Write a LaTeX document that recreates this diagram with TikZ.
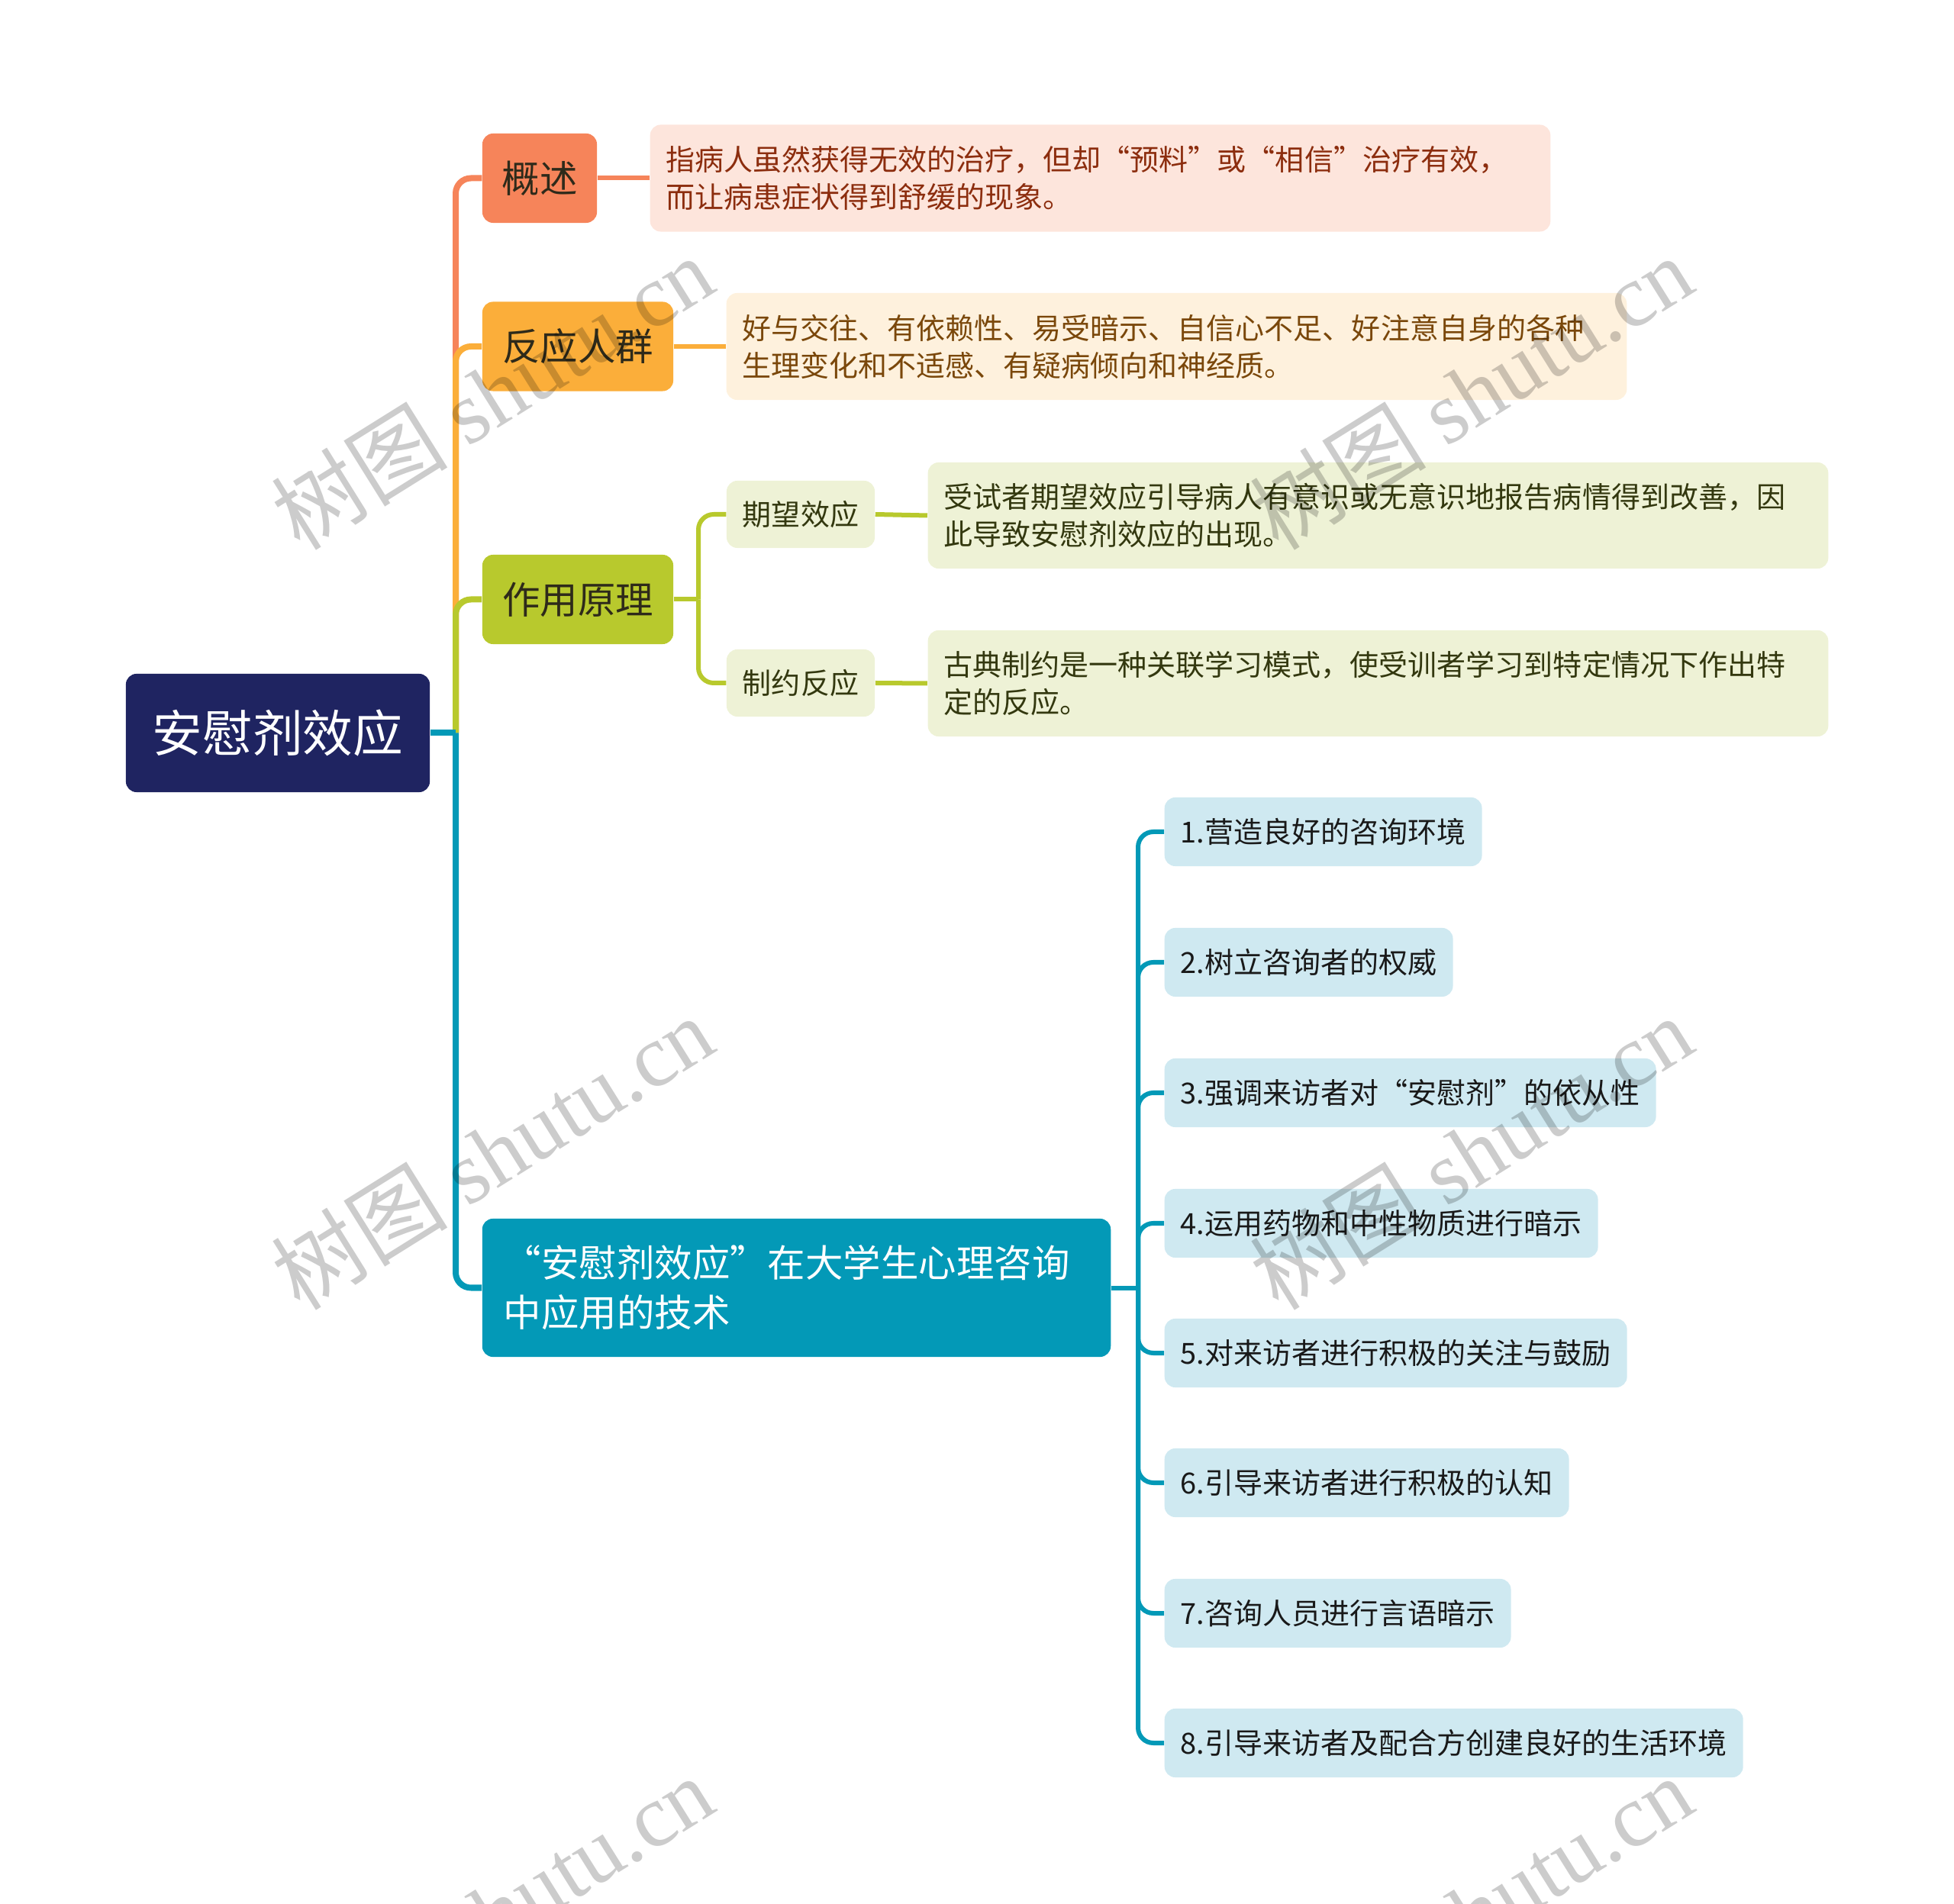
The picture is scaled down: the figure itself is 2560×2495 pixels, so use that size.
\documentclass[tikz,border=0pt]{standalone}
\usepackage{fontspec}
\setmainfont{Noto Sans CJK SC}
\newfontfamily\cjk{Noto Sans CJK SC}
\newfontfamily\wmserif{Liberation Serif}
\definecolor{rootc}{HTML}{1F2461}
\definecolor{c1}{HTML}{F6845A}
\definecolor{c1l}{HTML}{FDE5DC}
\definecolor{c1t}{HTML}{8C2D0E}
\definecolor{c2}{HTML}{FBAE3A}
\definecolor{c2l}{HTML}{FEF1DD}
\definecolor{c2t}{HTML}{7A470A}
\definecolor{c3}{HTML}{B8C92D}
\definecolor{c3l}{HTML}{EEF2D6}
\definecolor{c3t}{HTML}{33380F}
\definecolor{c4}{HTML}{0399B7}
\definecolor{c4l}{HTML}{CFE9F1}
\definecolor{darktxt}{HTML}{2E2A1A}
\begin{document}
\begin{tikzpicture}[x=0.01cm,y=-0.01cm,
  box/.style={rounded corners=0.14cm, inner sep=0pt, align=center},
  rootbox/.style={box, fill=rootc, text=white, minimum width=3.98cm, minimum height=1.55cm,
    font=\fontsize{18.67pt}{22pt}\selectfont},
  lvlone/.style={box, minimum height=1.17cm, font=\fontsize{14.06pt}{18.5pt}\selectfont, text=darktxt},
  detail/.style={box, minimum width=11.79cm, minimum height=1.40cm, text width=11.37cm, align=left,
    font=\fontsize{10.81pt}{13.94pt}\selectfont},
  subbox/.style={box, fill=c3l, text=c3t, minimum width=1.94cm, minimum height=0.88cm,
    font=\fontsize{10.81pt}{13.94pt}\selectfont},
  itembox/.style={box, fill=c4l, text=black!90, anchor=west, inner xsep=0.21cm, minimum height=0.90cm,
    font=\fontsize{10.81pt}{13.94pt}\selectfont},
  mainline/.style={line width=0.08cm, rounded corners=0.2cm},
  subline/.style={line width=0.06cm, rounded corners=0.2cm},
  wm/.style={text=black, text opacity=0.2, rotate=32, font=\fontsize{33pt}{37pt}\selectfont}
]
\useasboundingbox (0,0) rectangle (2560,2495);

% nodes
\node[rootbox] (root) at (364,960.5) {安慰剂效应};

\node[lvlone, fill=c1, minimum width=1.50cm] (gs) at (707,233.5) {概述};
\node[detail, fill=c1l, text=c1t] (d1) at (1441.5,233.5) {指病人虽然获得无效的治疗，但却“预料”或“相信”治疗有效，\\而让病患症状得到舒缓的现象。};

\node[lvlone, fill=c2, minimum width=2.50cm] (fy) at (757,454) {反应人群};
\node[detail, fill=c2l, text=c2t] (d2) at (1541.5,454) {好与交往、有依赖性、易受暗示、自信心不足、好注意自身的各种\\生理变化和不适感、有疑病倾向和神经质。};

\node[lvlone, fill=c3, minimum width=2.50cm] (zy) at (757,785.5) {作用原理};
\node[subbox] (qw) at (1049,674) {期望效应};
\node[subbox] (zr) at (1049,895) {制约反应};
\node[detail, fill=c3l, text=c3t, minimum height=1.39cm] (d3a) at (1805.5,675.5) {受试者期望效应引导病人有意识或无意识地报告病情得到改善，因\\此导致安慰剂效应的出现。};
\node[detail, fill=c3l, text=c3t, minimum height=1.39cm] (d3b) at (1805.5,895.5) {古典制约是一种关联学习模式，使受训者学习到特定情况下作出特\\定的反应。};

\node[box, fill=c4, text=white, minimum width=8.23cm, minimum height=1.81cm, text width=7.67cm, align=left,
  font=\fontsize{14.06pt}{18.5pt}\selectfont] (tk) at (1043.5,1687.5) {“安慰剂效应”在大学生心理咨询\\中应用的技术};

\node[itembox] (i1) at (1525,1090) {1.营造良好的咨询环境};
\node[itembox] (i2) at (1525,1261) {2.树立咨询者的权威};
\node[itembox] (i3) at (1525,1432) {3.强调来访者对“安慰剂”的依从性};
\node[itembox] (i4) at (1525,1603) {4.运用药物和中性物质进行暗示};
\node[itembox] (i5) at (1525,1773) {5.对来访者进行积极的关注与鼓励};
\node[itembox] (i6) at (1525,1943) {6.引导来访者进行积极的认知};
\node[itembox] (i7) at (1525,2114) {7.咨询人员进行言语暗示};
\node[itembox] (i8) at (1525,2284) {8.引导来访者及配合方创建良好的生活环境};

% junctions
\coordinate (J) at (597,960.5);
\coordinate (J2) at (915,785.5);
\coordinate (J3) at (1491,1687.5);

% main trunk branches
\draw[mainline, c1] (J) |- (gs.west);
\draw[mainline, c2] (J) |- (fy.west);
\draw[mainline, c3] (J) |- (zy.west);
\draw[line width=0.08cm, c4] (root.east) -- (J);
\draw[mainline, c4] (J) |- (tk.west);

% level1 -> detail
\draw[subline, c1] (gs.east) -- (d1.west);
\draw[subline, c2] (fy.east) -- (d2.west);

% 作用原理 sub-branches
\draw[line width=0.06cm, c3] (zy.east) -- (J2);
\draw[subline, c3] (J2) |- (qw.west);
\draw[subline, c3] (J2) |- (zr.west);
\draw[subline, c3] (qw.east) -- (d3a.west);
\draw[subline, c3] (zr.east) -- (d3b.west);

% technique items
\draw[line width=0.06cm, c4] (tk.east) -- (J3);
\foreach \i in {1,...,8} {
  \draw[subline, c4] (J3) |- (i\i.west);
}

% watermarks
\node[wm] (w1) at (645,514) {树图 {\wmserif shutu.cn}};
\node[wm] (w2) at (1927,514) {树图 {\wmserif shutu.cn}};
\node[wm] (w3) at (645,1510) {树图 {\wmserif shutu.cn}};
\node[wm] (w4) at (1927,1510) {树图 {\wmserif shutu.cn}};
\node[wm] (w5) at (645,2506) {树图 {\wmserif shutu.cn}};
\node[wm] (w6) at (1927,2506) {树图 {\wmserif shutu.cn}};
\end{tikzpicture}
\end{document}
